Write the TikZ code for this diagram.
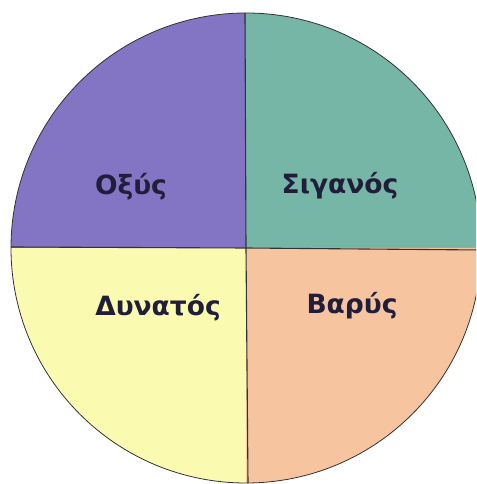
\documentclass[tikz,border=0pt]{standalone}
\usepackage{fontspec}
\setmainfont{DejaVu Sans}
\definecolor{cpurple}{RGB}{132,116,196}
\definecolor{cteal}{RGB}{118,182,166}
\definecolor{cyellow}{RGB}{250,250,176}
\definecolor{cpeach}{RGB}{247,196,160}
\definecolor{ctext}{RGB}{32,30,58}
\begin{document}
\begin{tikzpicture}[x=1pt,y=1pt,
  lab/.style={font=\bfseries\fontsize{26.5}{31}\selectfont, text=ctext, inner sep=0pt},
  edge/.style={draw=black!80, line width=1.1pt}]
\useasboundingbox (0,0) rectangle (476,484);
\coordinate (c) at (246,236);
\begin{scope}
\clip (0,0) rectangle (476,484);
\fill[cpurple] (c) -- ++(-235,0) arc (180:90:235) -- cycle;
\fill[cteal] (c) -- ++(0,235) arc (90:0:235) -- cycle;
\fill[cpeach] (c) -- ++(235,0) arc (0:-90:235) -- cycle;
\fill[cyellow] (c) -- ++(0,-235) arc (270:180:235) -- cycle;
\draw[black!80, line width=0.8pt] (c) circle (235);
\coordinate (t) at (245,471);
\coordinate (b) at (248,1);
\coordinate (l) at (11,237);
\coordinate (r) at (481,234);
\draw[edge] (t) -- (c) -- (b);
\draw[edge] (l) -- (c) -- (r);
\end{scope}
\node[lab] (oxys) at (131,297) {Οξύς};
\node[lab] (sig) at (340,298) {Σιγανός};
\node[lab] (dyn) at (158,176) {Δυνατός};
\node[lab] (var) at (352,178) {Βαρύς};
\end{tikzpicture}
\end{document}
